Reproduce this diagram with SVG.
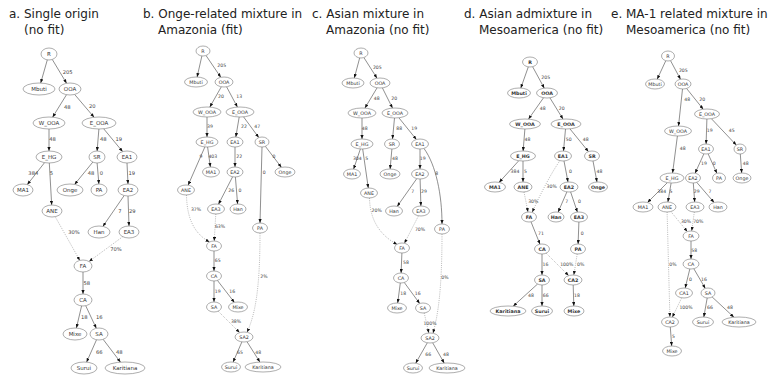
<svg xmlns="http://www.w3.org/2000/svg" width="770" height="377" viewBox="0 0 770 377">
<style>
  .bg { fill: #fff; }
  .title { font-family: "DejaVu Sans", "Liberation Sans", sans-serif; font-size: 12px; fill: #222; }
  .n ellipse { fill: #fff; stroke: #777; stroke-width: 0.6; }
  .n text { font-family: "DejaVu Sans", "Liberation Sans", sans-serif; text-anchor: middle; dominant-baseline: central; fill: #333; font-size: 4.8px; }
  .pa .n text { font-size: 5.5px; }
  .pd .n text { font-weight: bold; }
  .e { fill: none; stroke: #444; stroke-width: 0.6; marker-end: url(#ah); }
  .d { fill: none; stroke: #999; stroke-width: 0.7; stroke-dasharray: 1 1.2; marker-end: url(#ah); }
  .l { font-family: "DejaVu Sans", "Liberation Sans", sans-serif; text-anchor: middle; dominant-baseline: central; fill: #444; font-size: 4.6px; }
  .pa .l { font-size: 5.2px; }
</style>
<defs>
  <marker id="ah" viewBox="0 0 10 8" refX="10" refY="4" markerWidth="4" markerHeight="3.2" markerUnits="userSpaceOnUse" orient="auto">
    <path d="M0,0 L10,4 L0,8 z" fill="#111"/>
  </marker>
</defs>
<rect class="bg" width="770" height="377"/>

<!-- panel titles -->
<g id="titles" class="title">
  <text x="9" y="18">a. Single origin<tspan x="24" y="34">(no fit)</tspan></text>
  <text x="143" y="18">b. Onge-related mixture in<tspan x="158" y="34">Amazonia (fit)</tspan></text>
  <text x="312" y="18">c. Asian mixture in<tspan x="326" y="34">Amazonia (no fit)</tspan></text>
  <text x="464" y="18">d. Asian admixture in<tspan x="479" y="34">Mesoamerica (no fit)</tspan></text>
  <text x="611" y="18">e. MA-1 related mixture in<tspan x="626" y="34">Mesoamerica (no fit)</tspan></text>
</g>

<!-- ===== panel a ===== -->
<g id="panel-a" class="pa">
  <g id="a-edges">
    <path class="e" d="M47.3,59.9 L40.7,83"/>
    <path class="e" d="M52.3,59.5 L66.6,83.3"/>
    <path class="e" d="M66.5,94.7 L52.6,117.2"/>
    <path class="e" d="M74.6,94.4 L94.1,117.3"/>
    <path class="e" d="M49,129 L49,151"/>
    <path class="e" d="M44.6,162.6 L27.3,184.6"/>
    <path class="e" d="M49.3,163 L51.7,205"/>
    <path class="e" d="M98.9,129 L97.1,151"/>
    <path class="e" d="M103.7,128.8 L122.6,151.6"/>
    <path class="e" d="M92.8,162.1 L74.6,184.4"/>
    <path class="e" d="M97.1,163 L98.9,184"/>
    <path class="e" d="M127,163 L128,184"/>
    <path class="e" d="M124.2,195.5 L102.9,226.4"/>
    <path class="e" d="M128,196 L129,226"/>
    <path class="d" d="M55.2,216.7 L79.8,260.4"/>
    <path class="d" d="M122.7,236.7 L89,261.5"/>
    <path class="e" d="M83,272 L83,294"/>
    <path class="e" d="M81.6,305.9 L76.4,328"/>
    <path class="e" d="M85.7,305.7 L96.3,328.3"/>
    <path class="e" d="M96.5,339.8 L86.6,362.1"/>
    <path class="e" d="M103.1,339.3 L120.5,362.2"/>
    <text class="l" x="67.7" y="72.3">205</text>
    <text class="l" x="67.3" y="106.7">48</text>
    <text class="l" x="92.3" y="105.7">20</text>
    <text class="l" x="52.5" y="139">48</text>
    <text class="l" x="103.3" y="139">48</text>
    <text class="l" x="118.7" y="139">19</text>
    <text class="l" x="33.3" y="172.7">384</text>
    <text class="l" x="51.5" y="172.7">5</text>
    <text class="l" x="91" y="173">48</text>
    <text class="l" x="101.3" y="173">0</text>
    <text class="l" x="131.7" y="172.7">19</text>
    <text class="l" x="120" y="211">7</text>
    <text class="l" x="132.3" y="211">29</text>
    <text class="l" x="74" y="232.3">30%</text>
    <text class="l" x="116" y="249">70%</text>
    <text class="l" x="86.7" y="282.7">58</text>
    <text class="l" x="84.3" y="317.3">18</text>
    <text class="l" x="99.3" y="317.3">16</text>
    <text class="l" x="99.3" y="351.7">66</text>
    <text class="l" x="119.3" y="351.7">48</text>
  </g>
  <g id="a-R" class="n"><ellipse cx="49" cy="54" rx="8" ry="6"/><text x="49" y="54">R</text></g>
  <g id="a-Mbuti" class="n"><ellipse cx="39" cy="89" rx="16" ry="6"/><text x="39" y="89">Mbuti</text></g>
  <g id="a-OOA" class="n"><ellipse cx="70" cy="89" rx="11" ry="6"/><text x="70" y="89">OOA</text></g>
  <g id="a-W_OOA" class="n"><ellipse cx="49" cy="123" rx="16" ry="6"/><text x="49" y="123">W_OOA</text></g>
  <g id="a-E_OOA" class="n"><ellipse cx="99" cy="123" rx="17" ry="6"/><text x="99" y="123">E_OOA</text></g>
  <g id="a-E_HG" class="n"><ellipse cx="49" cy="157" rx="13" ry="6"/><text x="49" y="157">E_HG</text></g>
  <g id="a-SR" class="n"><ellipse cx="97" cy="157" rx="8" ry="6"/><text x="97" y="157">SR</text></g>
  <g id="a-EA1" class="n"><ellipse cx="127" cy="157" rx="10" ry="6"/><text x="127" y="157">EA1</text></g>
  <g id="a-MA1" class="n"><ellipse cx="23" cy="190" rx="10" ry="6"/><text x="23" y="190">MA1</text></g>
  <g id="a-Onge" class="n"><ellipse cx="70" cy="190" rx="13" ry="6"/><text x="70" y="190">Onge</text></g>
  <g id="a-PA" class="n"><ellipse cx="99" cy="190" rx="8" ry="6"/><text x="99" y="190">PA</text></g>
  <g id="a-EA2" class="n"><ellipse cx="128" cy="190" rx="10" ry="6"/><text x="128" y="190">EA2</text></g>
  <g id="a-ANE" class="n"><ellipse cx="52" cy="211" rx="10" ry="6"/><text x="52" y="211">ANE</text></g>
  <g id="a-Han" class="n"><ellipse cx="99" cy="232" rx="11" ry="6"/><text x="99" y="232">Han</text></g>
  <g id="a-EA3" class="n"><ellipse cx="129" cy="232" rx="10" ry="6"/><text x="129" y="232">EA3</text></g>
  <g id="a-FA" class="n"><ellipse cx="83" cy="266" rx="9" ry="6"/><text x="83" y="266">FA</text></g>
  <g id="a-CA" class="n"><ellipse cx="83" cy="300" rx="9" ry="6"/><text x="83" y="300">CA</text></g>
  <g id="a-Mixe" class="n"><ellipse cx="75" cy="334" rx="12" ry="6"/><text x="75" y="334">Mixe</text></g>
  <g id="a-SA" class="n"><ellipse cx="99" cy="334" rx="9" ry="6"/><text x="99" y="334">SA</text></g>
  <g id="a-Surui" class="n"><ellipse cx="84" cy="368" rx="13" ry="6"/><text x="84" y="368">Surui</text></g>
  <g id="a-Karitiana" class="n"><ellipse cx="125" cy="368" rx="20" ry="6"/><text x="125" y="368">Karitiana</text></g>
</g>

<!-- ===== panel b ===== -->
<g id="panel-b" class="pb">
  <g id="b-edges">
    <path class="e" d="M201.9,55.9 L197.1,77"/>
    <path class="e" d="M206,55.5 L220.8,77.3"/>
    <path class="e" d="M221.3,86.8 L209.8,107.1"/>
    <path class="e" d="M226.6,86.8 L237.4,107.1"/>
    <path class="e" d="M207,117 L207,137"/>
    <path class="e" d="M204.9,146.9 L188.1,185.2"/>
    <path class="e" d="M207.6,147 L210.4,167"/>
    <path class="e" d="M239.2,117 L235.8,137"/>
    <path class="e" d="M243.5,116.8 L258.8,137.6"/>
    <path class="e" d="M235,147 L235,167"/>
    <path class="e" d="M265.4,146.4 L281.4,167.3"/>
    <path class="e" d="M262,147 L260,223"/>
    <path class="e" d="M232.6,176.8 L218.5,204.2"/>
    <path class="e" d="M235.4,177 L237.6,204"/>
    <path class="d" d="M186.5,195 C187,225 199,236 209.5,242"/>
    <path class="d" d="M215.8,214 L214.2,241"/>
    <path class="e" d="M214,251 L214,271"/>
    <path class="e" d="M214,281 L214,302"/>
    <path class="e" d="M217.4,280.4 L234.4,302.4"/>
    <path class="d" d="M218.2,311.2 L239.6,332.6"/>
    <path class="d" d="M260,233 C260,290 255,315 247,332.3"/>
    <path class="e" d="M241.9,341.9 L233.1,362.1"/>
    <path class="e" d="M247,341.7 L259.9,362.1"/>
    <text class="l" x="221.7" y="65.7">205</text>
    <text class="l" x="221" y="96">20</text>
    <text class="l" x="239.3" y="96">13</text>
    <text class="l" x="210" y="126.7">39</text>
    <text class="l" x="244" y="126.7">22</text>
    <text class="l" x="257.3" y="126.7">47</text>
    <text class="l" x="201" y="156.7">9</text>
    <text class="l" x="212.8" y="156.7">403</text>
    <text class="l" x="239.3" y="156.7">22</text>
    <text class="l" x="274" y="156.7">0</text>
    <text class="l" x="264.3" y="172.3">0</text>
    <text class="l" x="231.3" y="190.7">26</text>
    <text class="l" x="240" y="190.7">0</text>
    <text class="l" x="196" y="209">37%</text>
    <text class="l" x="220" y="226.7">63%</text>
    <text class="l" x="217.7" y="260.7">65</text>
    <text class="l" x="217.7" y="291">19</text>
    <text class="l" x="232.3" y="291">16</text>
    <text class="l" x="264" y="276">2%</text>
    <text class="l" x="236" y="321.7">38%</text>
    <text class="l" x="240" y="352">65</text>
    <text class="l" x="258.3" y="352">48</text>
  </g>
  <g id="b-R" class="n"><ellipse cx="203" cy="51" rx="7" ry="5"/><text x="203" y="51">R</text></g>
  <g id="b-Mbuti" class="n"><ellipse cx="196" cy="82" rx="11.5" ry="5"/><text x="196" y="82">Mbuti</text></g>
  <g id="b-OOA" class="n"><ellipse cx="224" cy="82" rx="9" ry="5"/><text x="224" y="82">OOA</text></g>
  <g id="b-W_OOA" class="n"><ellipse cx="207" cy="112" rx="14" ry="5"/><text x="207" y="112">W_OOA</text></g>
  <g id="b-E_OOA" class="n"><ellipse cx="240" cy="112" rx="14" ry="5"/><text x="240" y="112">E_OOA</text></g>
  <g id="b-E_HG" class="n"><ellipse cx="207" cy="142" rx="11" ry="5"/><text x="207" y="142">E_HG</text></g>
  <g id="b-EA1" class="n"><ellipse cx="235" cy="142" rx="8" ry="5"/><text x="235" y="142">EA1</text></g>
  <g id="b-SR" class="n"><ellipse cx="262" cy="142" rx="7" ry="5"/><text x="262" y="142">SR</text></g>
  <g id="b-MA1" class="n"><ellipse cx="211" cy="172" rx="8.5" ry="5"/><text x="211" y="172">MA1</text></g>
  <g id="b-EA2" class="n"><ellipse cx="235" cy="172" rx="8" ry="5"/><text x="235" y="172">EA2</text></g>
  <g id="b-Onge" class="n"><ellipse cx="285" cy="172" rx="10" ry="5"/><text x="285" y="172">Onge</text></g>
  <g id="b-ANE" class="n"><ellipse cx="186" cy="190" rx="8.5" ry="5"/><text x="186" y="190">ANE</text></g>
  <g id="b-EA3" class="n"><ellipse cx="216" cy="209" rx="8.5" ry="5"/><text x="216" y="209">EA3</text></g>
  <g id="b-Han" class="n"><ellipse cx="238" cy="209" rx="8" ry="5"/><text x="238" y="209">Han</text></g>
  <g id="b-PA" class="n"><ellipse cx="260" cy="228" rx="7.5" ry="5"/><text x="260" y="228">PA</text></g>
  <g id="b-FA" class="n"><ellipse cx="214" cy="246" rx="7.5" ry="5"/><text x="214" y="246">FA</text></g>
  <g id="b-CA" class="n"><ellipse cx="214" cy="276" rx="7.5" ry="5"/><text x="214" y="276">CA</text></g>
  <g id="b-SA" class="n"><ellipse cx="214" cy="307" rx="7.5" ry="5"/><text x="214" y="307">SA</text></g>
  <g id="b-Mixe" class="n"><ellipse cx="238" cy="307" rx="9.5" ry="5"/><text x="238" y="307">Mixe</text></g>
  <g id="b-SA2" class="n"><ellipse cx="244" cy="337" rx="9" ry="5"/><text x="244" y="337">SA2</text></g>
  <g id="b-Surui" class="n"><ellipse cx="231" cy="367" rx="9.5" ry="5"/><text x="231" y="367">Surui</text></g>
  <g id="b-Karitiana" class="n"><ellipse cx="263" cy="367" rx="18" ry="5"/><text x="263" y="367">Karitiana</text></g>
</g>

<!-- ===== panel c ===== -->
<g id="panel-c" class="pc">
  <g id="c-edges">
    <path class="e" d="M359.7,57.9 L354.3,78"/>
    <path class="e" d="M363.9,57.6 L377,78.2"/>
    <path class="e" d="M377.1,87.8 L364.9,108.1"/>
    <path class="e" d="M382.4,87.9 L392.5,108.1"/>
    <path class="e" d="M362,118 L362,139"/>
    <path class="e" d="M394.5,118 L392.5,139"/>
    <path class="e" d="M398.9,117.8 L416.4,139.5"/>
    <path class="e" d="M360.4,148.9 L353.6,169.1"/>
    <path class="e" d="M362.7,149 L368.3,188"/>
    <path class="e" d="M391.9,149 L390.1,169"/>
    <path class="e" d="M420,149 L420,169"/>
    <path class="e" d="M424,148.5 C436,165 442,195 442,224"/>
    <path class="e" d="M416.8,178.6 L397.2,206.4"/>
    <path class="e" d="M420.1,179 L420.9,206"/>
    <path class="d" d="M369.5,198 C370,225 385,238 397.3,244.5"/>
    <path class="d" d="M418.5,215.8 L404.4,243.3"/>
    <path class="e" d="M401.9,253 L401.1,273"/>
    <path class="e" d="M400.3,283 L397.7,303"/>
    <path class="e" d="M404.3,282.5 L419.7,303.5"/>
    <path class="d" d="M424.2,313 L428.8,333"/>
    <path class="d" d="M442,234 C442,290 438,315 433,333.2"/>
    <path class="e" d="M427.3,342.8 L415.7,363.2"/>
    <path class="e" d="M432.7,342.8 L444.2,363.1"/>
    <text class="l" x="377.3" y="67.7">205</text>
    <text class="l" x="376.7" y="98.3">48</text>
    <text class="l" x="394.3" y="98.3">20</text>
    <text class="l" x="364.8" y="128.3">48</text>
    <text class="l" x="399.3" y="128.3">88</text>
    <text class="l" x="414.3" y="128.3">19</text>
    <text class="l" x="357.3" y="158.3">304</text>
    <text class="l" x="366.7" y="158.3">5</text>
    <text class="l" x="395" y="158.3">48</text>
    <text class="l" x="422.7" y="158.3">19</text>
    <text class="l" x="436.7" y="173.3">8</text>
    <text class="l" x="412.7" y="191.7">7</text>
    <text class="l" x="424" y="191.7">29</text>
    <text class="l" x="376.7" y="210.7">20%</text>
    <text class="l" x="420" y="229.3">70%</text>
    <text class="l" x="406" y="262.3">58</text>
    <text class="l" x="445" y="277.7">0%</text>
    <text class="l" x="403.3" y="293.3">18</text>
    <text class="l" x="417.7" y="293.3">16</text>
    <text class="l" x="430" y="323.3">100%</text>
    <text class="l" x="428.3" y="354">66</text>
    <text class="l" x="446" y="354">48</text>
  </g>
  <g id="c-R" class="n"><ellipse cx="361" cy="53" rx="7" ry="5"/><text x="361" y="53">R</text></g>
  <g id="c-Mbuti" class="n"><ellipse cx="353" cy="83" rx="11" ry="5"/><text x="353" y="83">Mbuti</text></g>
  <g id="c-OOA" class="n"><ellipse cx="380" cy="83" rx="10" ry="5"/><text x="380" y="83">OOA</text></g>
  <g id="c-W_OOA" class="n"><ellipse cx="362" cy="113" rx="14" ry="5"/><text x="362" y="113">W_OOA</text></g>
  <g id="c-E_OOA" class="n"><ellipse cx="395" cy="113" rx="13" ry="5"/><text x="395" y="113">E_OOA</text></g>
  <g id="c-E_HG" class="n"><ellipse cx="362" cy="144" rx="11" ry="5"/><text x="362" y="144">E_HG</text></g>
  <g id="c-SR" class="n"><ellipse cx="392" cy="144" rx="7.5" ry="5"/><text x="392" y="144">SR</text></g>
  <g id="c-EA1" class="n"><ellipse cx="420" cy="144" rx="8.5" ry="5"/><text x="420" y="144">EA1</text></g>
  <g id="c-MA1" class="n"><ellipse cx="352" cy="174" rx="8.5" ry="5"/><text x="352" y="174">MA1</text></g>
  <g id="c-Onge" class="n"><ellipse cx="390" cy="174" rx="10" ry="5"/><text x="390" y="174">Onge</text></g>
  <g id="c-EA2" class="n"><ellipse cx="420" cy="174" rx="8.5" ry="5"/><text x="420" y="174">EA2</text></g>
  <g id="c-ANE" class="n"><ellipse cx="369" cy="193" rx="8.5" ry="5"/><text x="369" y="193">ANE</text></g>
  <g id="c-Han" class="n"><ellipse cx="394" cy="211" rx="8.5" ry="5"/><text x="394" y="211">Han</text></g>
  <g id="c-EA3" class="n"><ellipse cx="421" cy="211" rx="8.5" ry="5"/><text x="421" y="211">EA3</text></g>
  <g id="c-PA" class="n"><ellipse cx="442" cy="229" rx="7.5" ry="5"/><text x="442" y="229">PA</text></g>
  <g id="c-FA" class="n"><ellipse cx="402" cy="248" rx="7.5" ry="5"/><text x="402" y="248">FA</text></g>
  <g id="c-CA" class="n"><ellipse cx="401" cy="278" rx="7.5" ry="5"/><text x="401" y="278">CA</text></g>
  <g id="c-Mixe" class="n"><ellipse cx="397" cy="308" rx="9.5" ry="5"/><text x="397" y="308">Mixe</text></g>
  <g id="c-SA" class="n"><ellipse cx="423" cy="308" rx="7.5" ry="5"/><text x="423" y="308">SA</text></g>
  <g id="c-SA2" class="n"><ellipse cx="430" cy="338" rx="9" ry="5"/><text x="430" y="338">SA2</text></g>
  <g id="c-Surui" class="n"><ellipse cx="413" cy="368" rx="9.5" ry="5"/><text x="413" y="368">Surui</text></g>
  <g id="c-Karitiana" class="n"><ellipse cx="447" cy="368" rx="18" ry="5"/><text x="447" y="368">Karitiana</text></g>
</g>

<!-- ===== panel d ===== -->
<g id="panel-d" class="pd">
  <g id="d-edges">
    <path class="e" d="M528.3,66.9 L520.8,88.1"/>
    <path class="e" d="M532.6,66.7 L544.3,88.2"/>
    <path class="e" d="M543.6,97.7 L528.5,119.1"/>
    <path class="e" d="M549.9,97.8 L563,119.1"/>
    <path class="e" d="M524.9,129 L523.1,151"/>
    <path class="e" d="M565.5,129 L563.5,151"/>
    <path class="e" d="M569.9,128.8 L588.4,151.6"/>
    <path class="e" d="M518.8,160.7 L499.1,182.4"/>
    <path class="e" d="M523,161 L523,182"/>
    <path class="e" d="M593,161 L597,182"/>
    <path class="e" d="M564,161 L568,182"/>
    <path class="d" d="M560,160.5 C550,175 540,195 532.2,212.3"/>
    <path class="d" d="M524,192 L528,212"/>
    <path class="e" d="M566.9,191.9 L558.1,212.2"/>
    <path class="e" d="M570.6,191.9 L577.4,212.1"/>
    <path class="e" d="M531,221.8 L540,244.2"/>
    <path class="e" d="M578.9,222 L578.1,244"/>
    <path class="e" d="M542,254 L542,275"/>
    <path class="d" d="M546.2,253.2 L568.6,275.6"/>
    <path class="d" d="M577.2,254 L573.8,275"/>
    <path class="e" d="M537.6,284 L513.2,306.2"/>
    <path class="e" d="M542,285 L542,306"/>
    <path class="e" d="M573.2,285 L573.8,306"/>
    <text class="l" x="545.7" y="77.3">205</text>
    <text class="l" x="542.7" y="108.3">48</text>
    <text class="l" x="561.7" y="108.3">20</text>
    <text class="l" x="527.5" y="139">48</text>
    <text class="l" x="568.8" y="139">50</text>
    <text class="l" x="585.7" y="139">48</text>
    <text class="l" x="515" y="171">384</text>
    <text class="l" x="525.5" y="171">5</text>
    <text class="l" x="570.5" y="171">0</text>
    <text class="l" x="599.5" y="171">48</text>
    <text class="l" x="551.7" y="186">30%</text>
    <text class="l" x="533.3" y="201.7">30%</text>
    <text class="l" x="566.7" y="201.7">7</text>
    <text class="l" x="579.5" y="201.7">0</text>
    <text class="l" x="541" y="233.3">71</text>
    <text class="l" x="582.3" y="233.3">0</text>
    <text class="l" x="545.5" y="264.3">16</text>
    <text class="l" x="566.7" y="264.3">100%</text>
    <text class="l" x="580.7" y="264.3">0%</text>
    <text class="l" x="531" y="295.7">48</text>
    <text class="l" x="545.7" y="295.7">66</text>
    <text class="l" x="577" y="295.7">18</text>
  </g>
  <g id="d-R" class="n"><ellipse cx="530" cy="62" rx="7.5" ry="5"/><text x="530" y="62">R</text></g>
  <g id="d-Mbuti" class="n"><ellipse cx="519" cy="93" rx="11.5" ry="5"/><text x="519" y="93">Mbuti</text></g>
  <g id="d-OOA" class="n"><ellipse cx="547" cy="93" rx="10.5" ry="5"/><text x="547" y="93">OOA</text></g>
  <g id="d-W_OOA" class="n"><ellipse cx="525" cy="124" rx="15.5" ry="5"/><text x="525" y="124">W_OOA</text></g>
  <g id="d-E_OOA" class="n"><ellipse cx="566" cy="124" rx="15" ry="5"/><text x="566" y="124">E_OOA</text></g>
  <g id="d-E_HG" class="n"><ellipse cx="523" cy="156" rx="12.5" ry="5"/><text x="523" y="156">E_HG</text></g>
  <g id="d-EA1" class="n"><ellipse cx="563" cy="156" rx="8.5" ry="5"/><text x="563" y="156">EA1</text></g>
  <g id="d-SR" class="n"><ellipse cx="592" cy="156" rx="7.5" ry="5"/><text x="592" y="156">SR</text></g>
  <g id="d-MA1" class="n"><ellipse cx="495" cy="187" rx="10.5" ry="5"/><text x="495" y="187">MA1</text></g>
  <g id="d-ANE" class="n"><ellipse cx="523" cy="187" rx="9" ry="5"/><text x="523" y="187">ANE</text></g>
  <g id="d-EA2" class="n"><ellipse cx="569" cy="187" rx="9" ry="5"/><text x="569" y="187">EA2</text></g>
  <g id="d-Onge" class="n"><ellipse cx="598" cy="187" rx="9.5" ry="5"/><text x="598" y="187">Onge</text></g>
  <g id="d-FA" class="n"><ellipse cx="529" cy="217" rx="7.5" ry="5"/><text x="529" y="217">FA</text></g>
  <g id="d-Han" class="n"><ellipse cx="556" cy="217" rx="8" ry="5"/><text x="556" y="217">Han</text></g>
  <g id="d-EA3" class="n"><ellipse cx="579" cy="217" rx="8.5" ry="5"/><text x="579" y="217">EA3</text></g>
  <g id="d-CA" class="n"><ellipse cx="542" cy="249" rx="7.5" ry="5"/><text x="542" y="249">CA</text></g>
  <g id="d-PA" class="n"><ellipse cx="578" cy="249" rx="7.5" ry="5"/><text x="578" y="249">PA</text></g>
  <g id="d-SA" class="n"><ellipse cx="542" cy="280" rx="7.5" ry="5"/><text x="542" y="280">SA</text></g>
  <g id="d-CA2" class="n"><ellipse cx="573" cy="280" rx="9" ry="5"/><text x="573" y="280">CA2</text></g>
  <g id="d-Karitiana" class="n"><ellipse cx="508" cy="311" rx="18" ry="5"/><text x="508" y="311">Karitiana</text></g>
  <g id="d-Surui" class="n"><ellipse cx="542" cy="311" rx="10.5" ry="5"/><text x="542" y="311">Surui</text></g>
  <g id="d-Mixe" class="n"><ellipse cx="574" cy="311" rx="10" ry="5"/><text x="574" y="311">Mixe</text></g>
</g>

<!-- ===== panel e ===== -->
<g id="panel-e" class="pe">
  <g id="e-edges">
    <path class="e" d="M665.8,60.7 L657.2,79.2"/>
    <path class="e" d="M670.5,60.6 L680.5,79.3"/>
    <path class="e" d="M682.5,89 L678.5,126"/>
    <path class="e" d="M686.6,88.5 L703.2,109.2"/>
    <path class="e" d="M706.9,119 L706.1,144"/>
    <path class="e" d="M711.4,118.7 L736.3,145.1"/>
    <path class="e" d="M677.4,136 L672.6,173"/>
    <path class="e" d="M703.9,153.8 L695.1,173.2"/>
    <path class="e" d="M708.1,153.8 L716.9,173.3"/>
    <path class="e" d="M740.3,154 L741.7,173"/>
    <path class="e" d="M667.4,182.6 L647.5,202.5"/>
    <path class="e" d="M671.1,183 L667.9,202"/>
    <path class="e" d="M693.3,183 L694.7,202"/>
    <path class="e" d="M696.7,182.3 L714.1,202.5"/>
    <path class="d" d="M670.8,211.5 L687.3,231.6"/>
    <path class="d" d="M694.3,212 L691.7,231"/>
    <path class="d" d="M667.1,212 L669.9,317"/>
    <path class="e" d="M691,241 L691,259"/>
    <path class="e" d="M689.8,269 L685.2,288"/>
    <path class="e" d="M693.8,268.7 L705.3,288.4"/>
    <path class="d" d="M681.7,297.8 L672.3,317.2"/>
    <path class="e" d="M707.2,298 L703.8,317"/>
    <path class="e" d="M712.2,297 L733.9,317.2"/>
    <path class="e" d="M670.3,327 L671.7,346"/>
    <text class="l" x="683.3" y="70">205</text>
    <text class="l" x="687.3" y="99.3">48</text>
    <text class="l" x="702.3" y="99.3">20</text>
    <text class="l" x="709.8" y="130.7">19</text>
    <text class="l" x="731.7" y="130.7">45</text>
    <text class="l" x="682.7" y="148.3">48</text>
    <text class="l" x="704" y="163.3">19</text>
    <text class="l" x="714.3" y="163.3">0</text>
    <text class="l" x="745.7" y="163.3">48</text>
    <text class="l" x="661.7" y="191.7">384</text>
    <text class="l" x="671" y="191.7">5</text>
    <text class="l" x="696.7" y="191.7">29</text>
    <text class="l" x="710" y="191.7">7</text>
    <text class="l" x="686" y="221">30%</text>
    <text class="l" x="698.3" y="221">70%</text>
    <text class="l" x="694.3" y="250">58</text>
    <text class="l" x="673" y="264.3">0%</text>
    <text class="l" x="690.5" y="279">0</text>
    <text class="l" x="704" y="279">16</text>
    <text class="l" x="686" y="307.7">100%</text>
    <text class="l" x="710" y="307.7">66</text>
    <text class="l" x="730" y="307.7">48</text>
    <text class="l" x="673.5" y="336.7">5</text>
  </g>
  <g id="e-R" class="n"><ellipse cx="668" cy="56" rx="6.5" ry="5"/><text x="668" y="56">R</text></g>
  <g id="e-Mbuti" class="n"><ellipse cx="655" cy="84" rx="9.5" ry="5"/><text x="655" y="84">Mbuti</text></g>
  <g id="e-OOA" class="n"><ellipse cx="683" cy="84" rx="8" ry="5"/><text x="683" y="84">OOA</text></g>
  <g id="e-E_OOA" class="n"><ellipse cx="707" cy="114" rx="12.5" ry="5"/><text x="707" y="114">E_OOA</text></g>
  <g id="e-W_OOA" class="n"><ellipse cx="678" cy="131" rx="13.5" ry="5"/><text x="678" y="131">W_OOA</text></g>
  <g id="e-EA1" class="n"><ellipse cx="706" cy="149" rx="7.5" ry="5"/><text x="706" y="149">EA1</text></g>
  <g id="e-SR" class="n"><ellipse cx="740" cy="149" rx="6" ry="5"/><text x="740" y="149">SR</text></g>
  <g id="e-E_HG" class="n"><ellipse cx="672" cy="178" rx="12" ry="5"/><text x="672" y="178">E_HG</text></g>
  <g id="e-EA2" class="n"><ellipse cx="693" cy="178" rx="7.5" ry="5"/><text x="693" y="178">EA2</text></g>
  <g id="e-PA" class="n"><ellipse cx="719" cy="178" rx="6.5" ry="5"/><text x="719" y="178">PA</text></g>
  <g id="e-Onge" class="n"><ellipse cx="742" cy="178" rx="9" ry="5"/><text x="742" y="178">Onge</text></g>
  <g id="e-MA1" class="n"><ellipse cx="643" cy="207" rx="10" ry="5"/><text x="643" y="207">MA1</text></g>
  <g id="e-ANE" class="n"><ellipse cx="667" cy="207" rx="9" ry="5"/><text x="667" y="207">ANE</text></g>
  <g id="e-EA3" class="n"><ellipse cx="695" cy="207" rx="9" ry="5"/><text x="695" y="207">EA3</text></g>
  <g id="e-Han" class="n"><ellipse cx="718" cy="207" rx="9" ry="5"/><text x="718" y="207">Han</text></g>
  <g id="e-FA" class="n"><ellipse cx="691" cy="236" rx="8" ry="5"/><text x="691" y="236">FA</text></g>
  <g id="e-CA" class="n"><ellipse cx="691" cy="264" rx="8" ry="5"/><text x="691" y="264">CA</text></g>
  <g id="e-CA1" class="n"><ellipse cx="684" cy="293" rx="8.5" ry="5"/><text x="684" y="293">CA1</text></g>
  <g id="e-SA" class="n"><ellipse cx="708" cy="293" rx="7" ry="5"/><text x="708" y="293">SA</text></g>
  <g id="e-CA2" class="n"><ellipse cx="670" cy="322" rx="8.5" ry="5"/><text x="670" y="322">CA2</text></g>
  <g id="e-Surui" class="n"><ellipse cx="703" cy="322" rx="10.5" ry="5"/><text x="703" y="322">Surui</text></g>
  <g id="e-Karitiana" class="n"><ellipse cx="739" cy="322" rx="17" ry="5"/><text x="739" y="322">Karitiana</text></g>
  <g id="e-Mixe" class="n"><ellipse cx="672" cy="351" rx="9.5" ry="5"/><text x="672" y="351">Mixe</text></g>
</g>
</svg>
